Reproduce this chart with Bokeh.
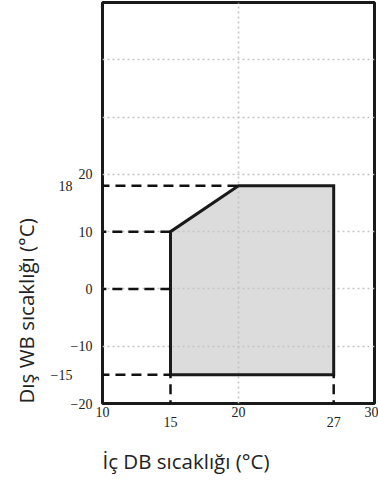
from bokeh.plotting import figure
from bokeh.models import (ColumnDataSource, LinearAxis, FixedTicker, Title,
                          Arrow, Range1d)
from bokeh.embed import file_html
from bokeh.resources import INLINE

# ---- data -------------------------------------------------------------
x_ticks_main = [10, 20, 30]
x_ticks_low = [15, 27]
y_ticks_main = [-20, -10, 0, 10, 20]
y_ticks_side = [-15, 18]
grid_x = [10, 20, 30]
grid_y = [-20, -10, 0, 10, 20, 30, 40, 50]

# operating region (indoor DB, outdoor WB)
region_x = [15, 15, 20, 27, 27]
region_y = [-15, 10, 18, 18, -15]

# dashed reference lines
ref_h_y = [18, 10, 0, -15]
ref_h_x_end = [20, 15, 15, 15]
ref_h_long = [True, False, False, True]
ref_v_x = [15, 27]
ref_v_y_top = [-15, -15]

X_MIN, X_MAX = 10, 30
Y_MIN, Y_MAX = -20, 50

SERIF = "Liberation Serif"
SANS = "Open Sans"
INK = "#1a1a1a"

p = figure(width=378, height=489,
           x_range=Range1d(X_MIN, X_MAX), y_range=Range1d(Y_MIN, Y_MAX),
           output_backend="svg", toolbar_location=None,
           min_border_left=102, min_border_right=4,
           min_border_top=2, min_border_bottom=85)
p.styles = {"position": "absolute", "top": "0px", "left": "0px"}
p.background_fill_color = "white"
p.border_fill_color = "white"
p.outline_line_color = INK
p.outline_line_width = 3
p.outline_line_alpha = 1

# grids
p.xgrid.ticker = FixedTicker(ticks=grid_x)
p.ygrid.ticker = FixedTicker(ticks=grid_y)
for g in (p.xgrid, p.ygrid):
    g.grid_line_color = "#c4c4c4"
    g.grid_line_width = 1.6
    g.grid_line_dash = "2 3"


def style_axis(ax, ticks, standoff):
    ax.ticker = FixedTicker(ticks=ticks)
    ax.axis_line_color = None
    ax.major_tick_line_color = None
    ax.minor_tick_line_color = None
    ax.major_tick_out = 0
    ax.major_tick_in = 0
    ax.major_label_text_font = SERIF
    ax.major_label_text_font_size = "14px"
    ax.major_label_text_color = "#222222"
    ax.major_label_standoff = standoff


style_axis(p.xaxis[0], x_ticks_main, 3)
style_axis(p.yaxis[0], y_ticks_main, 10)

xb = LinearAxis()
style_axis(xb, x_ticks_low, -3)
p.add_layout(xb, "below")

yb = LinearAxis()
style_axis(yb, y_ticks_side, -5)
p.add_layout(yb, "left")

xt = Title(text="İç DB sıcaklığı (°C)", align="left", text_font=SANS,
           text_font_size="20.5px", text_font_style="normal",
           text_color="#222222", standoff=30)
p.add_layout(xt, "below")
yt = Title(text="Dış WB sıcaklığı (°C)", align="left", text_font=SANS,
           text_font_size="20.5px", text_font_style="normal",
           text_color="#222222", standoff=16)
p.add_layout(yt, "left")

# region
p.patch(region_x, region_y, fill_color="#dcdcdc", line_color=None,
        level="image")
p.patch(region_x, region_y, fill_color=None, line_color=INK,
        line_width=3, line_join="miter")

# dashed reference lines (extend past the frame like tick marks)
LONG, SHORT, DOWN = 1.4, 0.45, 1.2
h_src = ColumnDataSource(dict(
    x0=[X_MIN - (LONG if l else SHORT) for l in ref_h_long],
    y0=ref_h_y, x1=ref_h_x_end, y1=ref_h_y))
v_src = ColumnDataSource(dict(
    x0=ref_v_x, y0=[Y_MIN - DOWN] * len(ref_v_x),
    x1=ref_v_x, y1=ref_v_y_top))
for src in (h_src, v_src):
    p.add_layout(Arrow(end=None, source=src, x_start="x0", y_start="y0",
                       x_end="x1", y_end="y1", line_color="#111111",
                       line_width=2.5, line_dash="10 6"))

open("out.html", "w").write(file_html(p, INLINE))
